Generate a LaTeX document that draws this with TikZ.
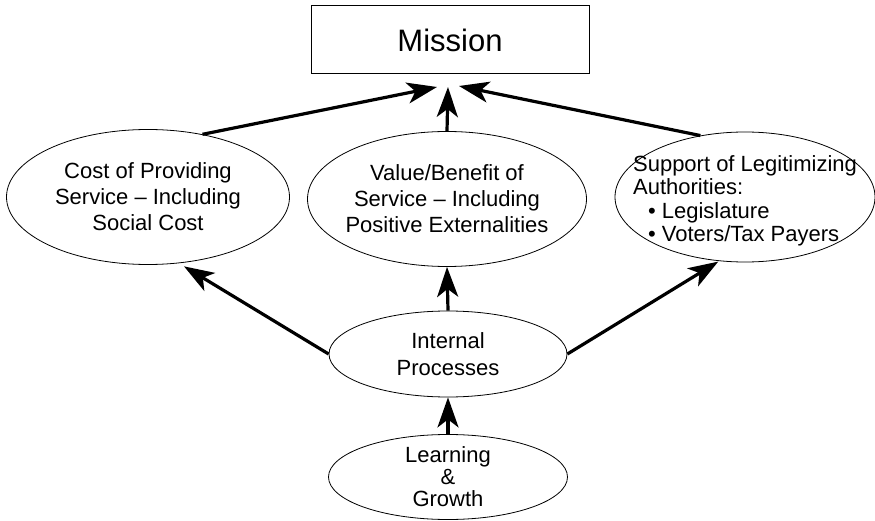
\documentclass[tikz,border=0pt]{standalone}
\usepackage{fontspec}
\setmainfont{Liberation Sans}
\usetikzlibrary{arrows.meta,shapes.geometric}

\tikzset{
  bubble/.style n args={2}{draw, ellipse, line width=0.8pt, inner sep=0pt,
    minimum width=#1, minimum height=#2},
  words/.style={align=center, inner sep=0pt, font=\fontsize{22}{26}\selectfont},
  goal/.style={draw, rectangle, line width=1pt, minimum width=278pt,
    minimum height=68pt, inner sep=0pt, font=\fontsize{31}{36}\selectfont},
  link/.style={line width=3.2pt, -{Stealth[length=30pt,width=21pt,inset=8pt]}}
}

\begin{document}
\begin{tikzpicture}[x=1pt,y=-1pt]
    \useasboundingbox (0,0) rectangle (875,521);

    \node[goal] at (450, 40)(mission){Mission};
    \node[bubble={283pt}{135pt},
      label={[words]center:Cost of Providing\\Service – Including\\Social Cost}]
      at (148, 197)(cost){};
    \node[bubble={279pt}{135pt},
      label={[words]center:Value/Benefit of\\Service – Including\\Positive Externalities}]
      at (447, 199)(value){};
    \node[bubble={260pt}{130pt},
      label={[words, align=left, font=\fontsize{22}{23.5}\selectfont, yshift=-4pt]center:Support of Legitimizing\\Authorities:\\\hspace*{15pt}• Legislature\\\hspace*{15pt}• Voters/Tax Payers}]
      at (745, 197)(support){};
    \node[bubble={238pt}{86pt},
      label={[words, font=\fontsize{22}{27}\selectfont]center:Internal\\Processes}]
      at (448, 354)(proc){};
    \node[bubble={239pt}{85pt},
      label={[words, font=\fontsize{22}{22}\selectfont]center:Learning\\\&\\Growth}]
      at (448, 477)(learn){};

    \coordinate (tipL) at (437, 87);
    \coordinate (tipC) at (448, 87);
    \coordinate (tipR) at (459, 86);

    \path[link]
    (cost.49)edge(tipL)
    (value.north)edge(tipC)
    (support.126)edge(tipR)
    (proc.west)edge[shorten >=6pt](cost.-65)
    (proc.north)edge(value.south)
    (proc.east)edge[shorten >=1pt](support.-112)
    (learn.north)edge(proc.south)
    ;
\end{tikzpicture}
\end{document}
